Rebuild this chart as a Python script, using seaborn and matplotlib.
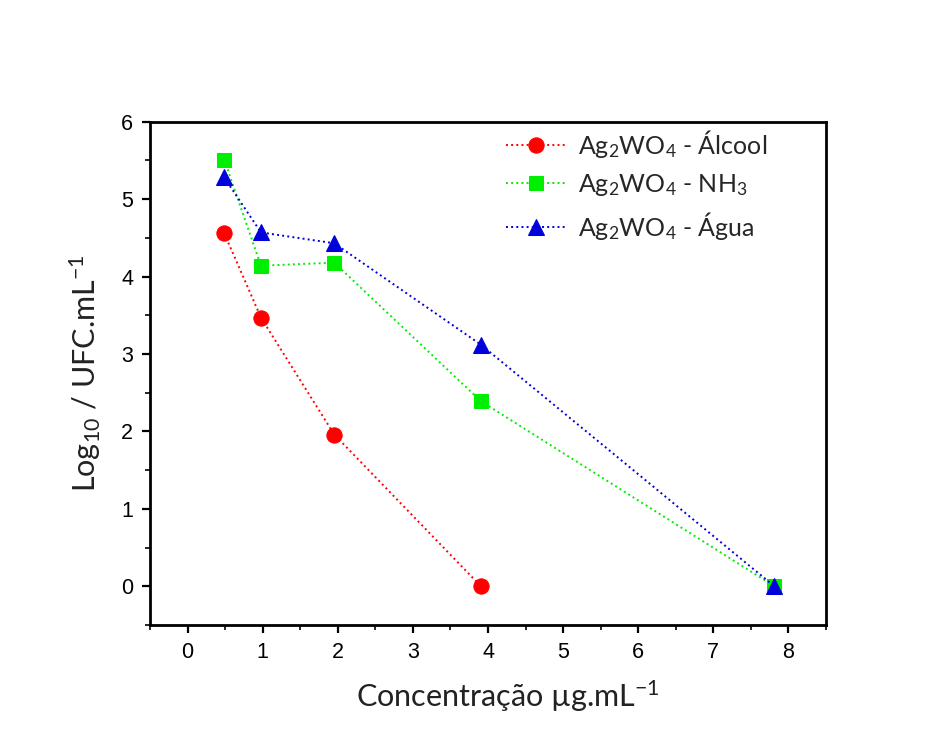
import matplotlib
matplotlib.use("Agg")
import matplotlib.pyplot as plt
from matplotlib.ticker import MultipleLocator
import seaborn as sns
import pandas as pd

# Concentrations (serial two-fold dilution) and log10 CFU counts
conc_alcool = [0.488, 0.977, 1.953, 3.906]
log_alcool = [4.56, 3.47, 1.96, 0.0]

conc_nh3 = [0.488, 0.977, 1.953, 3.906, 7.8125]
log_nh3 = [5.51, 4.14, 4.18, 2.39, 0.0]

conc_agua = [0.488, 0.977, 1.953, 3.906, 7.8125]
log_agua = [5.28, 4.57, 4.43, 3.12, 0.0]

labels = [r"Ag$_\mathregular{2}$WO$_\mathregular{4}$ - Álcool",
          r"Ag$_\mathregular{2}$WO$_\mathregular{4}$ - NH$_\mathregular{3}$",
          r"Ag$_\mathregular{2}$WO$_\mathregular{4}$ - Água"]

x_ticks = [0, 1, 2, 3, 4, 5, 6, 7, 8]
y_ticks = [0, 1, 2, 3, 4, 5, 6]

sns.set_style("white")
plt.rcParams["font.family"] = ["Liberation Sans", "DejaVu Sans"]
plt.rcParams["mathtext.fontset"] = "custom"
plt.rcParams["mathtext.rm"] = "Lato"
plt.rcParams["mathtext.it"] = "Lato:italic"

fig = plt.figure(figsize=(9.38, 7.36), dpi=100)
ax = fig.add_axes([150 / 938, 1 - 625 / 736, (826 - 150) / 938, (625 - 121.7) / 736])

series = [
    (conc_alcool, log_alcool, "#ff0000", "o", 11),
    (conc_nh3, log_nh3, "#00ee00", "s", 10),
    (conc_agua, log_agua, "#0000dd", "^", 12),
]
for (xs, ys, col, mk, ms), lab in zip(series, labels):
    df = pd.DataFrame({"x": xs, "y": ys})
    sns.lineplot(data=df, x="x", y="y", ax=ax, color=col, marker=mk,
                 markersize=ms, markeredgecolor=col, linestyle=":",
                 linewidth=1.4, label=lab, sort=False)

ax.set_xlim(-0.5, 8.5)
ax.set_ylim(-0.5, 6)
ax.set_xticks(x_ticks)
ax.set_yticks(y_ticks)
ax.xaxis.set_minor_locator(MultipleLocator(0.5))
ax.yaxis.set_minor_locator(MultipleLocator(0.5))

for s in ax.spines.values():
    s.set_linewidth(2.0)
    s.set_color("black")

ax.tick_params(axis="both", which="major", direction="out", length=6, width=1.6,
               labelsize=15.5, colors="black", bottom=True, left=True, pad=6)
ax.tick_params(axis="both", which="minor", direction="out", length=3.5, width=1.4,
               bottom=True, left=True)
ax.tick_params(top=False, right=False, which="both")

ax.set_xlabel(r"Concentração µg.mL$^\mathregular{-1}$", fontsize=22,
              family="Lato", color="#222222")
ax.set_ylabel(r"Log$_\mathregular{10}$ / UFC.mL$^\mathregular{-1}$", fontsize=22,
              family="Lato", color="#222222")
ax.xaxis.set_label_coords(0.53, -0.107)
ax.yaxis.set_label_coords(-0.07, 0.5)

leg = ax.legend(loc="upper left", frameon=False, prop={"family": "Lato", "size": 18},
                handlelength=2.4, labelspacing=0.48, bbox_to_anchor=(0.50, 1.022),
                handletextpad=0.5, borderaxespad=0.3)

fig.savefig("out.png", dpi=100, facecolor="white")
